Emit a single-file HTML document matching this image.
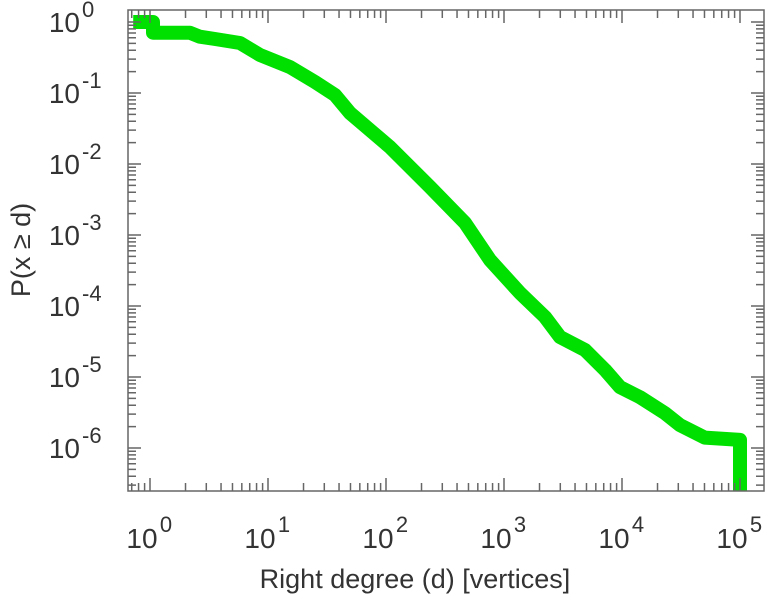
<!DOCTYPE html>
<html><head><meta charset="utf-8"><style>
html,body{margin:0;padding:0;background:#fff;}
svg{display:block;font-family:"Liberation Sans",sans-serif;}
</style></head><body>
<svg id="chart" width="770" height="600" viewBox="0 0 770 600">
<g id="marks"></g>
<rect x="128" y="10" width="636" height="481" fill="none" stroke="#666" stroke-width="1.5"/>
<g id="ticks"></g>
<g id="labels"></g>
<text x="415" y="588" text-anchor="middle" font-size="27" fill="#333">Right degree (d) [vertices]</text>
<text transform="translate(30,250) rotate(-90)" text-anchor="middle" font-size="27" fill="#333">P(x ≥ d)</text>
</svg>
<script>
const degrees=[0.72,1.06,1.06,2.18,2.65,3.56,5.79,8.55,15.4,25,37,49.5,108,236,467,761,1368,2225,2985,4856,7170,9610,14200,23100,31000,50300,100000,100000];
const probs=[1,1,0.707,0.707,0.621,0.576,0.506,0.343,0.232,0.143,0.0937,0.0523,0.0173,0.00474,0.00148,0.000445,0.000152,0.000070,0.0000366,0.000024,0.0000126,0.0000072,0.0000052,0.0000031,0.0000021,0.0000014,0.0000013,0.00000025];
const xDecades=[0,1,2,3,4,5];
const yDecades=[0,-1,-2,-3,-4,-5,-6];
const L=128,R=764,T=10,B=491;
const xs=v=>150+Math.log10(v)*118;
const ys=v=>22-Math.log10(v)*71;
const NS='http://www.w3.org/2000/svg';
function mk(t,a,p){const e=document.createElementNS(NS,t);for(const k in a)e.setAttribute(k,a[k]);p.appendChild(e);return e;}
let pts=[];
for(let i=0;i<degrees.length;i++){
  pts.push(xs(degrees[i]).toFixed(1)+','+Math.min(ys(probs[i]),B).toFixed(1));
}
const path=mk('polyline',{points:pts.join(' '),fill:'none',stroke:'#00e000','stroke-width':14,'stroke-linejoin':'round'},document.getElementById('marks'));


const tg=document.getElementById('ticks');
function ln(x1,y1,x2,y2){mk('line',{x1,y1,x2,y2,stroke:'#666','stroke-width':1.5},tg);}
for(let e=-1;e<=5;e++){for(let m=1;m<10;m++){const v=m*Math.pow(10,e);const x=xs(v);if(x<L||x>R)continue;const len=m===1?13:8;ln(x,B,x,B-len);ln(x,T,x,T+len);}}
for(let e=-7;e<=0;e++){for(let m=1;m<10;m++){const v=m*Math.pow(10,e);const y=ys(v);if(y<T||y>B)continue;const len=m===1?13:8;ln(L,y,L+len,y);ln(R,y,R-len,y);}}
const lg=document.getElementById('labels');
xDecades.forEach(e=>{const x=xs(Math.pow(10,e));
 const t=mk('text',{x:x-8,y:548,'text-anchor':'middle','font-size':28,fill:'#333'},lg);t.textContent='10';
 
 const s=mk('text',{x:x+16,y:532,'text-anchor':'middle','font-size':22,fill:'#333'},lg);s.textContent=String(e);
 });
yDecades.forEach(e=>{const y=ys(Math.pow(10,e));
 const t=mk('text',{x:80,y:y+10,'text-anchor':'end','font-size':28,fill:'#333'},lg);t.textContent='10';
 
 const s=mk('text',{x:82,y:y-5,'text-anchor':'start','font-size':22,fill:'#333'},lg);s.textContent=String(e);
 });
</script>
</body></html>
